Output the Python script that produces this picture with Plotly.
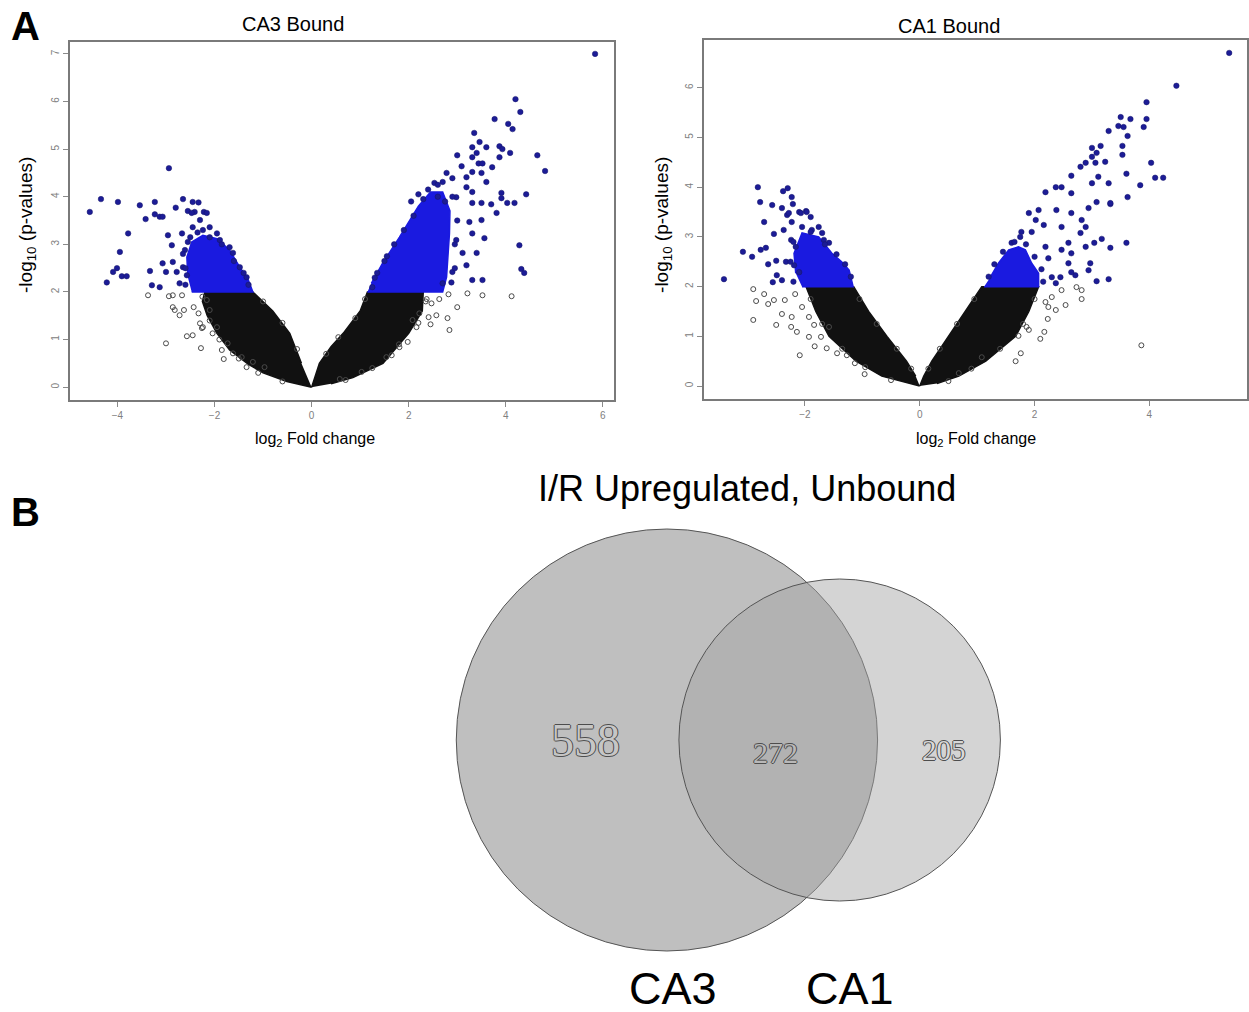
import plotly.graph_objects as go

# ---------------- DATA ----------------
# Volcano plot CA3 Bound: (log2 fold change, -log10 p)
CA3_BLUE = [(-4.57,3.68),(-4.34,3.95),(-3.99,3.89),(-3.54,3.82),(-3.23,3.89),(-2.94,4.60),(-2.65,3.95),(-2.45,3.89),
            (-2.33,3.88),(-2.80,3.77),(-2.55,3.70),(-2.41,3.68),(-2.22,3.68),(-3.23,3.63),(-3.13,3.58),(-3.42,3.53),
            (-3.78,3.23),(-3.95,2.84),(-4.01,2.50),(-4.09,2.42),(-4.22,2.20),(-3.91,2.33),(-3.81,2.33),(-3.07,3.58),
            (-3.33,2.44),(-3.29,2.14),(-3.13,2.10),(-3.07,2.60),(-3.00,2.42),(-2.88,2.98),(-2.96,3.19),(-2.78,2.42),
            (-2.72,2.18),(-2.86,2.63),(-2.65,2.52),(-2.57,2.35),(-2.67,3.23),(-2.61,2.88),(-2.45,3.36),(-2.30,3.51),
            (-2.24,3.30),(-2.55,3.05),(-2.47,3.66),(-2.16,3.66),(-2.10,3.36),(-1.89,3.09),(-1.62,2.82),(-1.48,2.52),
            (-1.34,2.31),(-1.69,2.94),(-1.95,3.23),(-2.35,3.25),(-2.10,3.15),(-1.85,3.00),(-1.60,2.65),(-1.40,2.40),
            (-1.30,2.15),(-2.60,2.50),(-2.65,2.80),(-2.50,3.15),(-2.60,2.15),
            (5.84,7.00),(4.20,6.05),(4.30,5.78),(3.77,5.63),(4.05,5.53),(4.14,5.42),(3.35,5.34),(3.46,5.15),(3.87,5.06),
            (3.93,5.00),(3.31,5.04),(3.60,5.04),(3.00,4.87),(3.40,4.92),(3.31,4.83),(4.65,4.87),(4.09,4.92),(3.87,4.83),
            (3.44,4.70),(3.52,4.70),(3.72,4.62),(3.09,4.64),(4.81,4.54),(3.31,4.52),(3.50,4.50),(3.19,4.41),(2.78,4.50),
            (2.90,4.39),(2.70,4.31),(2.53,4.29),(3.60,4.31),(4.42,4.05),(3.91,4.08),(4.03,3.87),(4.18,3.87),(3.91,3.97),
            (3.81,3.66),(3.31,4.10),(3.19,4.20),(2.98,3.99),(3.50,3.87),(3.70,3.84),(4.28,2.98),(4.32,2.48),(4.38,2.40),
            (3.56,3.13),(3.52,2.25),(3.31,2.25),(3.40,2.82),(3.19,2.56),(3.11,2.82),(3.31,3.23),(3.25,3.47),(3.50,3.51),
            (2.98,3.09),(2.90,2.42),(2.88,2.20),(2.70,2.18),(3.31,3.87),(2.05,3.90),(2.20,4.05),(2.40,4.15),(1.70,3.00),
            (1.55,2.75),(1.35,2.40),(2.60,4.00),(2.75,3.90),(1.30,2.30),(1.50,2.65),(1.90,3.30),(2.10,3.60),(2.30,3.95),
            (2.95,2.50),(2.95,3.00),(3.00,3.50),(2.90,4.00),(2.60,4.25),(1.25,2.10)]
CA3_GREY = [(-3.37,1.93),(-3.00,0.92),(-2.94,1.91),(-2.86,1.68),(-2.82,1.62),(-2.72,1.51),(-2.63,1.62),(-2.57,1.07),
            (-2.45,1.09),(-2.43,1.68),(-2.28,0.82),(-2.30,1.34),(-2.26,1.24),(-2.33,1.55),(-2.86,1.93),(-2.67,1.93),
            (-2.04,1.13),(-1.85,0.78),(-1.81,0.59),(-1.62,0.71),(-1.44,0.63),(-1.34,0.42),(-1.73,0.92),(-2.16,1.83),
            (-2.10,1.62),(-2.24,1.26),(-1.95,1.26),(-1.21,0.53),(-0.97,0.42),
            (-0.60,0.12),(-1.10,0.30),(-1.50,0.60),(-1.90,1.00),(-2.10,1.40),(-2.25,1.90),(-1.00,1.80),(-0.60,1.35),
            (-0.30,0.80),
            (2.41,1.47),(2.45,1.32),(2.57,1.51),(2.80,1.45),(2.84,1.20),(3.00,1.68),(3.21,1.97),(3.52,1.93),(4.12,1.91),
            (2.82,1.95),(2.63,1.85),(2.37,1.85),(2.47,1.76),(1.98,0.95),(1.65,0.67),(1.03,0.32),(0.58,0.17),(2.16,1.26),
            (2.08,1.41),(2.22,1.55),(1.81,0.84),(1.54,0.63),
            (0.30,0.70),(0.55,1.05),(0.90,1.45),(1.10,1.85),(2.35,1.80),(2.20,1.35),(1.80,0.90),(1.25,0.40),(0.70,0.15)]
# outlines of the dense (over-plotted) regions
CA3_CORE_L = [(0,0),(-0.51,0.12),(-1.0,0.3),(-1.3,0.48),(-1.69,0.78),(-1.95,1.13),(-2.15,1.5),(-2.25,1.8),(-2.2,2.0),
              (-1.21,2.0),(-0.8,1.6),(-0.45,1.13),(-0.21,0.5)]
CA3_CORE_R = [(0,0),(0.16,0.5),(0.4,0.85),(0.65,1.13),(1.0,1.6),(1.15,2.0),(2.3,2.0),(2.28,1.6),(2.0,1.13),(1.47,0.5),
              (0.85,0.2),(0.4,0.07)]
CA3_BCORE_L = [(-2.47,2.0),(-1.21,2.0),(-1.32,2.29),(-1.48,2.52),(-1.69,2.88),(-1.95,3.12),(-2.24,3.19),(-2.47,3.05),
               (-2.57,2.73),(-2.55,2.31)]
CA3_BCORE_R = [(1.15,2.0),(2.7,2.0),(2.78,2.31),(2.8,2.67),(2.84,3.23),(2.85,3.7),(2.7,4.1),(2.45,4.1),(2.2,3.8),
               (1.81,3.15),(1.46,2.6),(1.23,2.18)]

# Volcano plot CA1 Bound
CA1_BLUE = [(-2.82,4.00),(-2.78,3.70),(-2.57,3.64),(-2.38,3.92),(-2.30,3.98),(-2.23,3.80),(-2.40,3.58),(-2.21,3.66),
            (-2.10,3.50),(-1.98,3.52),(-2.31,3.44),(-1.90,3.40),(-3.41,2.15),(-3.08,2.70),(-2.92,2.60),(-2.77,2.74),
            (-2.68,2.78),(-2.71,3.30),(-2.64,2.45),(-2.54,3.06),(-2.50,2.52),(-2.37,3.14),(-2.33,2.50),(-2.49,2.23),
            (-2.56,2.09),(-2.40,2.13),(-2.28,3.48),(-2.23,3.30),(-2.24,2.94),(-2.16,2.80),(-2.19,2.43),(-2.10,2.29),
            (-2.07,3.48),(-1.97,3.50),(-2.05,3.20),(-1.88,3.14),(-1.76,3.20),(-1.67,2.94),(-1.58,2.88),(-1.70,3.08),
            (-2.20,2.10),(-2.25,2.50),(-2.20,2.90),(-1.90,3.10),(-1.65,2.85),(-1.45,2.65),(-1.30,2.45),(-1.20,2.20),
            (5.39,6.70),(4.47,6.04),(3.95,5.71),(3.50,5.41),(3.67,5.37),(3.95,5.37),(3.46,5.23),(3.55,5.21),(3.90,5.21),
            (3.29,5.13),(3.62,5.03),(3.15,4.83),(3.00,4.79),(3.08,4.69),(3.53,4.83),(3.53,4.65),(3.00,4.61),(2.89,4.49),
            (3.06,4.49),(4.03,4.49),(4.10,4.19),(4.24,4.19),(3.84,4.04),(3.60,4.27),(3.23,4.51),(2.80,4.41),(2.64,4.23),
            (3.11,4.21),(3.29,4.08),(3.00,4.08),(3.62,3.80),(3.32,3.66),(3.08,3.70),(2.94,3.58),(2.64,3.88),(2.47,4.00),
            (2.37,4.00),(2.19,3.90),(3.60,2.88),(3.32,2.78),(3.29,2.15),(3.08,2.11),(2.97,2.47),(2.94,2.33),(3.04,2.88),
            (3.17,2.96),(2.89,2.80),(2.80,3.08),(3.32,3.68),(2.89,3.20),(2.64,2.67),(2.71,2.23),(2.64,2.29),(2.59,2.47),
            (2.45,2.19),(2.30,2.19),(2.37,2.07),(2.24,2.57),(2.19,2.80),(2.47,2.74),(2.59,2.88),(2.47,3.20),(2.82,3.34),
            (2.64,3.48),(2.38,3.54),(2.07,3.54),(1.90,3.48),(1.77,3.10),(1.60,2.88),(2.02,3.34),(2.16,3.24),
            (1.20,2.20),(1.30,2.45),(1.45,2.70),(1.65,2.90),(1.85,2.85),(2.00,2.60),(2.12,2.35),(2.15,2.10),(1.75,3.00),
            (1.95,3.10)]
CA1_GREY = [(-2.90,1.95),(-2.85,1.71),(-2.90,1.33),(-2.71,1.85),(-2.64,1.65),(-2.54,1.73),(-2.50,1.23),(-2.40,1.45),
            (-2.35,1.73),(-2.23,1.39),(-2.24,1.19),(-2.14,1.09),(-2.09,0.62),(-1.93,0.99),(-1.83,0.80),(-1.72,0.99),
            (-1.62,0.76),(-1.44,0.66),(-1.27,0.62),(-1.13,0.46),(-0.96,0.24),(-2.17,1.85),(-2.05,1.59),(-1.93,1.39),
            (-1.84,1.23),(-1.58,1.19),
            (-0.50,0.12),(-0.95,0.38),(-1.35,0.75),(-1.70,1.25),(-1.90,1.75),(-1.05,1.75),(-0.75,1.25),(-0.40,0.75),
            (-0.15,0.35),
            (3.86,0.82),(2.82,1.93),(2.82,1.75),(2.73,1.99),(2.54,1.63),(2.37,1.53),(2.19,1.69),(2.24,1.59),(2.23,1.35),
            (2.17,1.09),(2.10,0.95),(1.90,1.13),(1.86,1.19),(1.76,0.66),(1.67,0.50),(1.72,1.01),(2.47,1.93),(2.30,1.79),
            (1.08,0.58),(0.68,0.26),
            (0.15,0.35),(0.35,0.75),(0.65,1.25),(0.95,1.75),(2.00,1.75),(1.80,1.25),(1.40,0.75),(0.90,0.35),(0.50,0.10)]
CA1_CORE_L = [(0,0),(-0.66,0.2),(-1.11,0.5),(-1.58,1.0),(-1.81,1.5),(-1.98,2.0),(-1.15,2.0),(-0.89,1.5),(-0.57,1.0),
              (-0.23,0.5),(-0.07,0.2)]
CA1_CORE_R = [(0,0),(0.07,0.2),(0.21,0.5),(0.5,1.0),(0.8,1.5),(1.08,2.0),(2.07,2.0),(1.9,1.5),(1.67,1.0),(1.15,0.5),
              (0.68,0.2),(0.3,0.05)]
CA1_BCORE_L = [(-2.05,2.0),(-1.16,2.0),(-1.23,2.33),(-1.36,2.5),(-1.53,2.67),(-1.76,3.0),(-2.05,3.08),(-2.19,2.67),
               (-2.16,2.27)]
CA1_BCORE_R = [(1.12,2.0),(2.07,2.0),(2.07,2.27),(1.95,2.47),(1.84,2.74),(1.72,2.8),(1.55,2.74),(1.37,2.47),(1.23,2.19)]

CA3_XTICKS = [-4, -2, 0, 2, 4, 6]
CA3_YTICKS = [0, 1, 2, 3, 4, 5, 6, 7]
CA1_XTICKS = [-2, 0, 2, 4]
CA1_YTICKS = [0, 1, 2, 3, 4, 5, 6]

# Venn: I/R upregulated, unbound
VENN_SETS = ["CA3", "CA1"]
VENN_COUNTS = {"CA3 only": 558, "both": 272, "CA1 only": 205}

# ---------------- FIGURE ----------------
W, H = 1249, 1012
fig = go.Figure()

BLACK = "#111111"
BLUE_CORE = "#1a1ae0"
BLUE_DOT = "#1c1c96"


def add_volcano(xa, ya, cores, bcores, grey, blue):
    for poly in cores:
        fig.add_trace(go.Scatter(x=[p[0] for p in poly], y=[p[1] for p in poly], fill="toself",
                                 fillcolor=BLACK, mode="lines", line=dict(color=BLACK, width=1.5),
                                 xaxis=xa, yaxis=ya, hoverinfo="skip", showlegend=False))
    fig.add_trace(go.Scatter(x=[p[0] for p in grey], y=[p[1] for p in grey], mode="markers",
                             marker=dict(symbol="circle-open", size=5, color="#4a4a4a", line=dict(width=1)),
                             xaxis=xa, yaxis=ya, hoverinfo="skip", showlegend=False))
    for poly in bcores:
        fig.add_trace(go.Scatter(x=[p[0] for p in poly], y=[p[1] for p in poly], fill="toself",
                                 fillcolor=BLUE_CORE, mode="lines", line=dict(color=BLUE_CORE, width=1.5),
                                 xaxis=xa, yaxis=ya, hoverinfo="skip", showlegend=False))
    fig.add_trace(go.Scatter(x=[p[0] for p in blue], y=[p[1] for p in blue], mode="markers",
                             marker=dict(symbol="circle", size=5.5, color=BLUE_DOT,
                                         line=dict(width=0.5, color="#14146a")),
                             xaxis=xa, yaxis=ya, hoverinfo="skip", showlegend=False))


add_volcano("x", "y", [CA3_CORE_L, CA3_CORE_R], [CA3_BCORE_L, CA3_BCORE_R], CA3_GREY, CA3_BLUE)
add_volcano("x2", "y2", [CA1_CORE_L, CA1_CORE_R], [CA1_BCORE_L, CA1_BCORE_R], CA1_GREY, CA1_BLUE)

# invisible trace for the pixel-space overlay axes
fig.add_trace(go.Scatter(x=[None], y=[None], xaxis="x3", yaxis="y3", showlegend=False, hoverinfo="skip"))

axis_common = dict(showgrid=False, zeroline=False, showline=True, mirror=True, linecolor="#7a7a7a",
                   linewidth=1.5, ticks="outside", ticklen=5, tickcolor="#8a8a8a", tickwidth=1,
                   tickfont=dict(family="Liberation Sans", size=10, color="#808080"))

fig.update_layout(
    width=W, height=H, margin=dict(l=0, r=0, t=0, b=0),
    paper_bgcolor="white", plot_bgcolor="rgba(0,0,0,0)", showlegend=False,
    xaxis=dict(domain=[70 / W, 615 / W], range=[-4.98, 6.23], tickvals=CA3_XTICKS, anchor="y", **axis_common),
    yaxis=dict(domain=[1 - 400 / H, 1 - 42 / H], range=[-0.27, 7.25], tickvals=CA3_YTICKS, tickangle=-90,
               anchor="x", **axis_common),
    xaxis2=dict(domain=[705 / W, 1.0], range=[-3.76, 5.70], tickvals=CA1_XTICKS, anchor="y2", **axis_common),
    yaxis2=dict(domain=[1 - 399 / H, 1 - 40 / H], range=[-0.26, 6.96], tickvals=CA1_YTICKS, tickangle=-90,
                anchor="x2", **axis_common),
    xaxis3=dict(domain=[0, 1], range=[0, W], visible=False, anchor="y3", fixedrange=True),
    yaxis3=dict(domain=[0, 1], range=[H, 0], visible=False, anchor="x3", fixedrange=True),
)

# Venn circles (pixel space)
big = dict(cx=668, cy=740, r=211)
small = dict(cx=841, cy=740, r=161)
fig.add_shape(type="circle", xref="x3", yref="y3", x0=big["cx"] - big["r"], x1=big["cx"] + big["r"],
              y0=big["cy"] - big["r"], y1=big["cy"] + big["r"], fillcolor="rgb(191,191,191)",
              line=dict(color="#555555", width=1), layer="above")
fig.add_shape(type="circle", xref="x3", yref="y3", x0=small["cx"] - small["r"], x1=small["cx"] + small["r"],
              y0=small["cy"] - small["r"], y1=small["cy"] + small["r"], fillcolor="rgba(163,163,163,0.47)",
              line=dict(color="#555555", width=1), layer="above")

SANS = "Liberation Sans"
SERIF = "Liberation Serif"
outline = "1px 0 0 #4d4d4d, -1px 0 0 #4d4d4d, 0 1px 0 #4d4d4d, 0 -1px 0 #4d4d4d"


def ann(x, y, text, size, family=SANS, color="black", angle=0, shadow=None):
    f = dict(family=family, size=size, color=color)
    if shadow:
        f["shadow"] = shadow
    fig.add_annotation(x=x, y=y, xref="x3", yref="y3", text=text, showarrow=False, font=f,
                       xanchor="center", yanchor="middle", textangle=angle)


ann(26, 26, "<b>A</b>", 40)
ann(26, 512, "<b>B</b>", 40)
ann(293, 24, "CA3 Bound", 20)
ann(951, 26, "CA1 Bound", 20)
ann(27, 225, "-log<sub>10</sub> (p-values)", 19, angle=-90)
ann(664, 225, "-log<sub>10</sub> (p-values)", 19, angle=-90)
ann(316, 439, "log<sub>2</sub> Fold change", 16)
ann(978, 439, "log<sub>2</sub> Fold change", 16)

ann(748, 488, "I/R Upregulated, Unbound", 36)
ann(586, 740, str(VENN_COUNTS["CA3 only"]), 46, family=SERIF, color="#c6c6c6", shadow=outline)
ann(777, 752, str(VENN_COUNTS["both"]), 30, family=SERIF, color="#b8b8b8", shadow=outline)
ann(946, 750, str(VENN_COUNTS["CA1 only"]), 29, family=SERIF, color="#d8d8d8", shadow=outline)
ann(674, 988, VENN_SETS[0], 45)
ann(851, 988, VENN_SETS[1], 45)

fig.write_html("out.html", config={"displayModeBar": False},
               post_script="document.body.style.margin='0px';")
